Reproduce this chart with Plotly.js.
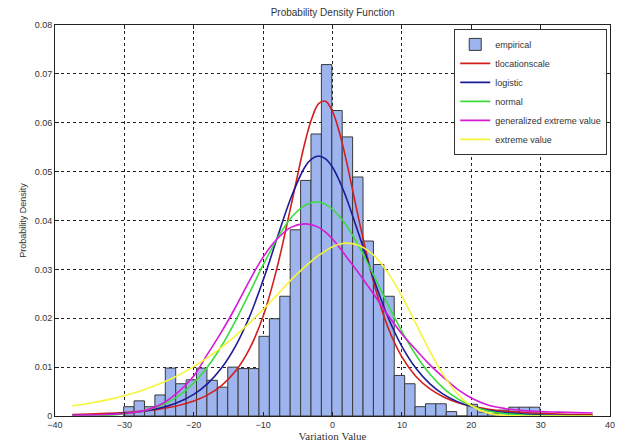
<!DOCTYPE html>
<html>
<head>
<meta charset="utf-8">
<script src="https://cdn.plot.ly/plotly-3.0.1.min.js"></script>
<style>
  html, body { margin: 0; padding: 0; background: #fff; }
  #chart { width: 630px; height: 445px; }
</style>
</head>
<body>
<div id="chart"></div>
<script>
// Histogram (empirical) — bin centers and densities, bin width 1.5
const binCenters = [-29.35, -27.85, -26.35, -24.85, -23.35, -21.85, -20.35, -18.85, -17.35, -15.85,
  -14.35, -12.85, -11.35, -9.85, -8.35, -6.85, -5.35, -3.85, -2.35, -0.85,
  0.65, 2.15, 3.65, 5.15, 6.65, 8.15, 9.65, 11.15, 12.65, 14.15,
  15.65, 17.15, 18.65, 20.15, 21.65, 23.15, 24.65, 26.15, 27.65, 29.15];
const binDensity = [0.0019, 0.0031, 0.0019, 0.0043, 0.0098, 0.0066, 0.0074, 0.0098, 0.0073, 0.0059,
  0.0100, 0.0097, 0.0097, 0.0163, 0.0199, 0.0245, 0.0381, 0.0482, 0.0577, 0.0719,
  0.0625, 0.0571, 0.0489, 0.0358, 0.0310, 0.0245, 0.0083, 0.0066, 0.0019, 0.0025,
  0.0025, 0.0009, 0.0, 0.0024, 0.0008, 0.0005, 0.0012, 0.0018, 0.0018, 0.0018];
const binWidth = 1.5;

// Fitted curves
const curveX = [-37.5, -35, -32.5, -30, -27.5, -25, -22.5, -20, -18, -16, -14, -12, -10, -8, -6, -4, -3, -2, -1, 0,
  1, 2, 4, 6, 8, 10, 12, 14, 16, 18, 20, 22.5, 25, 27.5, 30, 32.5, 35, 37.5];
const tlocY = [0.00031, 0.0004, 0.00053, 0.00072, 0.0010, 0.00141, 0.00205, 0.00306, 0.00433, 0.00623, 0.00915, 0.01365, 0.0204, 0.0303, 0.0429, 0.0558, 0.0608, 0.0639, 0.0644, 0.0623,
  0.0580, 0.0522, 0.0389, 0.0270, 0.0181, 0.0121, 0.00815, 0.00558, 0.0039, 0.00278, 0.00202, 0.00139, 0.00098, 0.00072, 0.00053, 0.0004, 0.00031, 0.00024];
const logisticY = [0.00011, 0.00019, 0.00032, 0.00055, 0.00093, 0.00158, 0.00265, 0.00443, 0.00663, 0.0098, 0.01425, 0.0202, 0.0278, 0.0363, 0.0446, 0.0509, 0.0526, 0.0532, 0.0526, 0.0509,
  0.0481, 0.0446, 0.0363, 0.0278, 0.0202, 0.01425, 0.0098, 0.00663, 0.00443, 0.00294, 0.00194, 0.00115, 0.00068, 0.0004, 0.00023, 0.00014, 0.00008, 0.00005];
const normalY = [0.00003, 0.00007, 0.00018, 0.00044, 0.00098, 0.0020, 0.00382, 0.00675, 0.01008, 0.01433, 0.01943, 0.0251, 0.0309, 0.0362, 0.0405, 0.0431, 0.0437, 0.0438, 0.0433, 0.0423,
  0.0408, 0.0390, 0.0342, 0.0286, 0.0228, 0.0173, 0.01253, 0.00863, 0.00567, 0.00355, 0.00212, 0.00104, 0.00047, 0.0002, 0.00008, 0.00003, 0.00001, 0.0];
const gevY = [0.0002, 0.0002, 0.0003, 0.0005, 0.0010, 0.0022, 0.0046, 0.0082, 0.0127, 0.0172, 0.0222, 0.0276, 0.0325, 0.0362, 0.0386, 0.0393, 0.0391, 0.0386, 0.0376, 0.0362,
  0.0345, 0.0326, 0.0288, 0.0248, 0.0206, 0.0168, 0.0136, 0.0105, 0.0079, 0.0055, 0.0037, 0.0022, 0.0015, 0.0011, 0.0009, 0.0008, 0.0007, 0.0006];
const evY = [0.00207, 0.00261, 0.0033, 0.00416, 0.00522, 0.00654, 0.00815, 0.0101, 0.01195, 0.01405, 0.0164, 0.0190, 0.0218, 0.02475, 0.0278, 0.0305, 0.03176, 0.03285, 0.03377, 0.03464,
  0.03514, 0.03537, 0.0348, 0.0328, 0.02928, 0.0245, 0.01895, 0.01334, 0.00836, 0.00456, 0.00209, 0.00059, 0.00011, 0.00001, 0.0, 0.0, 0.0, 0.0];

const xTicks = [-40, -30, -20, -10, 0, 10, 20, 30, 40];
const yTicks = [0, 0.01, 0.02, 0.03, 0.04, 0.05, 0.06, 0.07, 0.08];
const yTickText = ['0', '0.01', '0.02', '0.03', '0.04', '0.05', '0.06', '0.07', '0.08'];

const seriesNames = ['empirical', 'tlocationscale', 'logistic', 'normal', 'generalized extreme value', 'extreme value'];
const seriesColors = ['#9db4ee', '#d41e1e', '#1c1c96', '#3ddc3d', '#d61ad6', '#f5f53a'];

const lineSeries = [tlocY, logisticY, normalY, gevY, evY];

const traces = [{
  type: 'bar',
  x: binCenters,
  y: binDensity,
  width: binCenters.map(() => binWidth),
  name: seriesNames[0],
  marker: { color: seriesColors[0], line: { color: '#3a3a3a', width: 1 } }
}];
lineSeries.forEach((ys, i) => {
  traces.push({
    type: 'scatter',
    mode: 'lines',
    x: curveX,
    y: ys,
    name: seriesNames[i + 1],
    line: { color: seriesColors[i + 1], width: 1.6, shape: 'spline', smoothing: 1 }
  });
});

const axisCommon = {
  showline: true, linecolor: '#222', linewidth: 1, mirror: 'ticks',
  ticks: 'inside', ticklen: 4, tickcolor: '#222',
  showgrid: true, gridcolor: '#222', griddash: 'dot', gridwidth: 1,
  zeroline: false,
  tickfont: { family: 'Liberation Sans, Arial, sans-serif', size: 9, color: '#333' }
};

const layout = {
  width: 630, height: 445,
  margin: { l: 55, r: 20, t: 25, b: 29 },
  paper_bgcolor: '#fff', plot_bgcolor: '#fff',
  bargap: 0,
  showlegend: true,
  title: {
    text: 'Probability Density Function',
    font: { family: 'Liberation Sans, Arial, sans-serif', size: 10, color: '#333' },
    x: 0.528, xanchor: 'center', y: 0.972, yanchor: 'middle'
  },
  xaxis: Object.assign({}, axisCommon, {
    range: [-40, 40], tickvals: xTicks,
    title: { text: 'Variation Value', standoff: 2,
      font: { family: 'Liberation Serif, Times New Roman, serif', size: 11, color: '#333' } }
  }),
  yaxis: Object.assign({}, axisCommon, {
    range: [0, 0.08], tickvals: yTicks, ticktext: yTickText,
    title: { text: 'Probability Density', standoff: 6,
      font: { family: 'Liberation Sans, Arial, sans-serif', size: 9, color: '#333' } }
  }),
  legend: {
    x: 0.995, xanchor: 'right', y: 0.99, yanchor: 'top',
    bgcolor: '#fff', bordercolor: '#333', borderwidth: 1,
    font: { family: 'Liberation Sans, Arial, sans-serif', size: 9, color: '#333' },
    tracegroupgap: 0, itemwidth: 30
  }
};

Plotly.newPlot('chart', traces, layout, { staticPlot: true, displayModeBar: false });
</script>
</body>
</html>
